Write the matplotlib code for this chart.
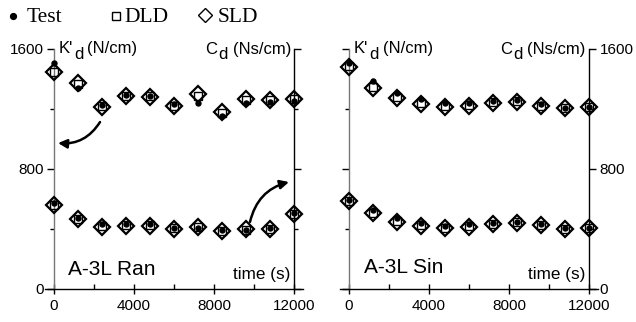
import matplotlib
matplotlib.use("Agg")
import matplotlib.pyplot as plt
from matplotlib import font_manager

# ---------------- data ----------------
time_s = [0, 1200, 2400, 3600, 4800, 6000, 7200, 8400, 9600, 10800, 12000]

# A-3L Ran
test_K_ran = [1505, 1340, 1230, 1293, 1289, 1231, 1238, 1156, 1238, 1244, 1256]
dld_K_ran = [1450, 1365, 1220, 1290, 1285, 1222, 1290, 1172, 1262, 1258, 1264]
sld_K_ran = [1450, 1371, 1215, 1287, 1282, 1220, 1298, 1178, 1267, 1260, 1267]
test_C_ran = [571, 471, 431, 431, 431, 409, 409, 393, 393, 404, 504]
dld_C_ran = [562, 466, 420, 424, 425, 404, 413, 390, 396, 402, 502]
sld_C_ran = [560, 464, 416, 420, 422, 400, 416, 387, 398, 400, 500]

# A-3L Sin
test_K_sin = [1509, 1387, 1309, 1264, 1238, 1242, 1256, 1260, 1231, 1204, 1211]
dld_K_sin = [1485, 1345, 1282, 1238, 1222, 1226, 1244, 1252, 1222, 1204, 1214]
sld_K_sin = [1482, 1338, 1276, 1231, 1216, 1220, 1238, 1249, 1220, 1204, 1216]
test_C_sin = [593, 527, 476, 442, 422, 431, 442, 449, 431, 404, 409]
dld_C_sin = [590, 510, 455, 425, 410, 420, 434, 444, 427, 402, 409]
sld_C_sin = [589, 504, 449, 420, 404, 416, 431, 442, 425, 400, 409]

xticks_major = [0, 4000, 8000, 12000]
xticks_minor = [2000, 6000, 10000]
yticks_major = [0, 800, 1600]
yticks_minor = [400, 1200]

legend_labels = ["Test", "DLD", "SLD"]
panel_titles = ["A-3L Ran", "A-3L Sin"]

SANS = "Liberation Sans"
SERIF = "Liberation Serif"
plt.rcParams["font.family"] = [SANS, "DejaVu Sans"]

W, H = 636, 322
fig = plt.figure(figsize=(W / 100, H / 100), dpi=100)


def px(x, y):
    """image pixel -> figure fraction"""
    return x / W, 1 - y / H


panels = [
    dict(left=45, K=(test_K_ran, dld_K_ran, sld_K_ran),
         C=(test_C_ran, dld_C_ran, sld_C_ran), title=panel_titles[0], right_labels=False),
    dict(left=340, K=(test_K_sin, dld_K_sin, sld_K_sin),
         C=(test_C_sin, dld_C_sin, sld_C_sin), title=panel_titles[1], right_labels=True),
]

tick_fs = 11
for i, p in enumerate(panels):
    ax = fig.add_axes([p["left"] / W, (H - 289) / H, 258 / W, 240 / H])
    ax.set_xlim(-450, 12450)
    ax.set_ylim(0, 1600)
    ax.patch.set_alpha(0)
    ax.spines["top"].set_visible(False)
    ax.spines["left"].set_position(("data", 0))
    ax.spines["right"].set_position(("data", 12000))
    ax.spines["left"].set_color("#777777")
    for s in ["left", "right", "bottom"]:
        ax.spines[s].set_linewidth(1.0)
    ax.spines["right"].set_color("black")

    ax.set_xticks(xticks_major)
    ax.set_xticks(xticks_minor, minor=True)
    ax.set_xticklabels([str(v) for v in xticks_major])
    ax.set_yticks(yticks_major)
    ax.set_yticks(yticks_minor, minor=True)
    ax.set_yticklabels([str(v) for v in yticks_major])

    ax.tick_params(axis="x", which="major", direction="inout", length=7, width=1,
                   labelsize=tick_fs, pad=4, top=False)
    ax.tick_params(axis="x", which="minor", direction="in", length=3.5, width=1, top=False)
    ax.tick_params(axis="y", which="both", direction="out", left=True, right=True,
                   width=1, labelsize=tick_fs, pad=2.5)
    ax.tick_params(axis="y", which="major", length=5)
    ax.tick_params(axis="y", which="minor", length=3)
    if p["right_labels"]:
        ax.tick_params(axis="y", labelleft=False, labelright=True)
    else:
        ax.tick_params(axis="y", labelleft=True, labelright=False)

    for grp in (p["K"], p["C"]):
        test, dld, sld = grp
        ax.plot(time_s, sld, linestyle="none", marker="D", markersize=8.2,
                markerfacecolor="none", markeredgecolor="black", markeredgewidth=1.6,
                clip_on=False, zorder=3)
        ax.plot(time_s, dld, linestyle="none", marker="s", markersize=5.2,
                markerfacecolor="none", markeredgecolor="black", markeredgewidth=1.0,
                clip_on=False, zorder=4)
        ax.plot(time_s, test, linestyle="none", marker="o", markersize=4.6,
                markerfacecolor="black", markeredgecolor="black", markeredgewidth=0,
                clip_on=False, zorder=5)

    # panel title and axis label
    x0 = 700 if i == 0 else 750
    y0 = 93 if i == 0 else 105
    ax.text(x0, y0, p["title"], fontsize=15, ha="left", va="baseline")
    ax.text(11800, 68, "time (s)", fontsize=12.3, ha="right", va="baseline")

panel_axes = fig.axes

# Quantity labels (K'd and Cd with lowered d), image-pixel placement
lab_fs = 12
label_parts = [
    # (text, x_px, baseline_px)
    ("K'", 59, 53), ("d", 74, 59), ("(N/cm)", 87, 53),
    ("C", 205, 54), ("d", 218, 59), ("(Ns/cm)", 233, 54),
    ("K'", 354, 53), ("d", 369, 59), ("(N/cm)", 383, 53),
    ("C", 500, 54), ("d", 513, 59), ("(Ns/cm)", 527, 54),
]
for txt, x, y in label_parts:
    fx, fy = px(x, y)
    fig.text(fx, fy, txt, fontsize=lab_fs, ha="left", va="baseline")

# Arrows in the left panel
axL = panel_axes[0]
axL.annotate("", xy=(200, 973), xytext=(2300, 1113),
             arrowprops=dict(arrowstyle="-|>", connectionstyle="arc3,rad=-0.3",
                             lw=1.8, color="black", mutation_scale=13,
                             shrinkA=0, shrinkB=0))
axL.annotate("", xy=(11750, 713), xytext=(9800, 447),
             arrowprops=dict(arrowstyle="-|>", connectionstyle="arc3,rad=-0.3",
                             lw=1.8, color="black", mutation_scale=13,
                             shrinkA=0, shrinkB=0))

# Legend row at top (markers + serif text)
lax = fig.add_axes([0, 0, 1, 1])
lax.set_xlim(0, W)
lax.set_ylim(H, 0)
lax.axis("off")
lax.plot([12.5], [15.5], marker="o", markersize=4.2, color="black", linestyle="none")
lax.plot([116], [16], marker="s", markersize=6, markerfacecolor="none",
         markeredgecolor="black", markeredgewidth=1.0, linestyle="none")
lax.plot([204.5], [14.5], marker="D", markersize=7.5, markerfacecolor="none",
         markeredgecolor="black", markeredgewidth=1.0, linestyle="none")
for txt, x in zip(legend_labels, [27, 124, 218]):
    lax.text(x, 22, txt, fontsize=15.5, family=[SERIF, "DejaVu Serif"],
             ha="left", va="baseline")

fig.savefig("out.png", dpi=100)
